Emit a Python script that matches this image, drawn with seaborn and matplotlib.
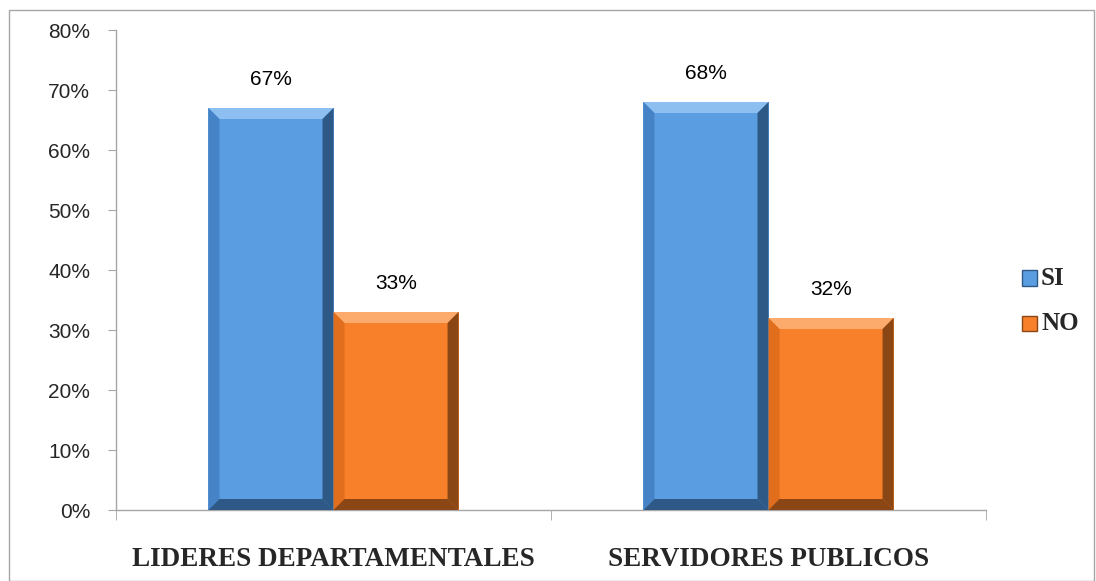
import matplotlib
matplotlib.use("Agg")
import matplotlib.pyplot as plt
import seaborn as sns
import pandas as pd
from matplotlib.patches import Polygon, Rectangle
from matplotlib.ticker import PercentFormatter, FixedLocator

categories = ["LIDERES DEPARTAMENTALES", "SERVIDORES PUBLICOS"]
series = ["SI", "NO"]
si_values = [67, 68]
no_values = [33, 32]
yticks = [0, 10, 20, 30, 40, 50, 60, 70, 80]

df = pd.DataFrame({
    "cat": categories * 2,
    "serie": [series[0]] * 2 + [series[1]] * 2,
    "val": si_values + no_values,
})

sns.set_style("white")
plt.rcParams["font.family"] = ["Liberation Sans", "DejaVu Sans"]

fig = plt.figure(figsize=(10.96, 5.81), dpi=100)
ax = fig.add_axes([116/1096, 71/581, 870/1096, 480/581])

colors = {"SI": "#5a9de0", "NO": "#f8802a"}
side_c = {"SI": "#4583c6", "NO": "#e06e1c"}
dark = {"SI": "#2e5987", "NO": "#8a4615"}
light = {"SI": "#8dc0f0", "NO": "#fcab6c"}
sns.barplot(data=df, x="cat", y="val", hue="serie", palette=colors,
            width=0.575, ax=ax, legend=False, saturation=1, linewidth=0)

ax.set_xlim(-0.5, 1.5)
ax.set_ylim(0, 80)
ax.yaxis.set_major_locator(FixedLocator(yticks))
ax.yaxis.set_major_formatter(PercentFormatter(decimals=0))
ax.set_xlabel("")
ax.set_ylabel("")

# bevel decoration derived from bar patches
xpp = 2.0 / 870
ypp = 80.0 / 480
bw, bh = 11 * xpp, 11 * ypp
for container, s in zip(ax.containers, series):
    for bar, v in zip(container.patches, df[df.serie == s].val):
        x0, w, h = bar.get_x(), bar.get_width(), bar.get_height()
        x1 = x0 + w
        ax.add_patch(Polygon([(x0, h), (x1, h), (x1 - bw, h - bh), (x0 + bw, h - bh)],
                             closed=True, facecolor=light[s], lw=0, zorder=3))
        ax.add_patch(Polygon([(x0, 0), (x0, h), (x0 + bw, h - bh), (x0 + bw, bh)],
                             closed=True, facecolor=side_c[s], lw=0, zorder=3))
        ax.add_patch(Polygon([(x1, 0), (x1, h), (x1 - bw, h - bh), (x1 - bw, bh)],
                             closed=True, facecolor=dark[s], lw=0, zorder=3))
        ax.add_patch(Polygon([(x0, 0), (x1, 0), (x1 - bw, bh), (x0 + bw, bh)],
                             closed=True, facecolor=dark[s], lw=0, zorder=3))
        ax.text(x0 + w / 2, h + 19 * ypp, f"{v:.0f}%", ha="center", va="bottom",
                fontsize=15, color="black")

for side in ["top", "right"]:
    ax.spines[side].set_visible(False)
for side in ["left", "bottom"]:
    ax.spines[side].set_color("#a6a6a6")
    ax.spines[side].set_linewidth(1)

ax.tick_params(axis="y", which="both", direction="out", length=6, color="#a6a6a6",
               labelsize=15, pad=12.5, left=True)
ax.set_xticks([0, 1])
ax.set_xticklabels(categories, fontfamily="Liberation Serif", fontweight="bold", fontsize=19.5)
ax.xaxis.set_minor_locator(FixedLocator([-0.5, 0.5, 1.5]))
ax.tick_params(axis="x", which="major", length=0, pad=27)
ax.tick_params(axis="x", which="minor", direction="out", length=7, color="#a6a6a6", bottom=True)

# legend
for i, (s, yc) in enumerate(zip(series, [278, 323])):
    yfig = (581 - yc) / 581
    fig.patches.append(Rectangle((1022/1096, yfig - 7.5/581), 15/1096, 15/581,
                                 transform=fig.transFigure, facecolor=colors[s],
                                 edgecolor=dark[s], lw=1))
    fig.text(1041/1096, yfig, s, fontfamily="Liberation Serif", fontweight="bold",
             fontsize=18, va="center", ha="left")

# outer border
fig.patches.append(Rectangle((9/1096, 0), 1085/1096, 571/581, transform=fig.transFigure,
                             fill=False, edgecolor="#a6a6a6", lw=1))

fig.savefig("out.png", dpi=100)
